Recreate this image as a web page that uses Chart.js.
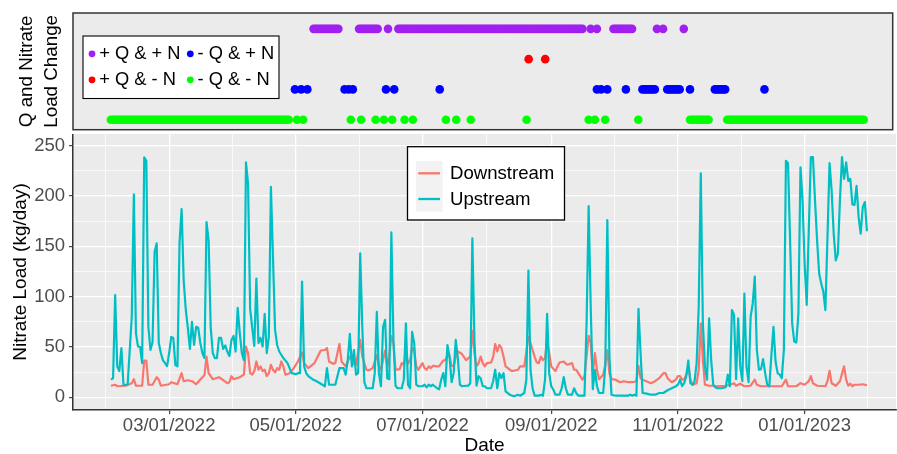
<!DOCTYPE html>
<html><head><meta charset="utf-8">
<script src="https://cdn.jsdelivr.net/npm/chart.js@4.4.1/dist/chart.umd.min.js"></script>
<style>
html,body{margin:0;padding:0;background:#fff;}
#wrap{position:relative;width:897px;height:454px;overflow:hidden;background:#fff;}
#topc{position:absolute;left:0;top:0;}
#botc{position:absolute;left:0;top:134px;}
</style></head><body>
<div id="wrap"><canvas id="topc" width="897" height="134"></canvas><canvas id="botc" width="897" height="320"></canvas></div>
<script>
// ---------- DATA ----------
const startDate = '2022-02-01';               // day 0
const tickDates = ['2022-03-01','2022-05-01','2022-07-01','2022-09-01','2022-11-01','2023-01-01'];
const tickLabels = ['03/01/2022','05/01/2022','07/01/2022','09/01/2022','11/01/2022','01/01/2023'];
const yTickValues = [0,50,100,150,200,250];
const seriesNames = ['Downstream','Upstream'];
const seriesColors = ['#F8766D','#00BFC4'];

// [day since startDate, nitrate load kg/day]
const upstreamLoad = [[0,17.5],[1,19],[2,101.5],[3,30.7],[4,26],[5,49],[6,12.5],[8,12.5],[10,80],[11,201.6],[12,64],[13,50.5],[14,50],[15,34],[16,238.5],[17,235],[18,70],[19,47],[20,55],[21,144.5],[22,153],[23,54],[24,44],[25,37],[27,31],[28,44],[29,60],[30,59],[31,32],[32,30.7],[33,154],[34,187],[35,116],[36,87],[37,69],[38,48],[39,75],[40,52],[41,70],[42,69],[43,54],[44,44],[45,39],[46,174],[47,156],[48,70],[49,44],[50,39],[51,39],[52,59],[53,59],[54,48],[55,51.5],[56,45.5],[57,41],[58,57],[59,61],[60,45.5],[61,89],[62,64],[63,44],[64,37],[65,233.5],[66,212],[67,88],[68,69],[69,51],[70,118],[71,54],[72,59],[73,50.5],[74,83],[75,44],[76,60],[77,209],[78,139],[79,67],[80,52],[81,45.5],[83,39],[85,34],[87,24],[89,23],[90,24],[91,24],[92,115],[93,30.7],[94,24],[95,21],[97,18],[99,16],[103,11],[104,29],[105,12.5],[107,12.5],[108,12.5],[110,29],[112,29],[113,22.5],[114,37],[115,63],[116,30.7],[117,47],[118,22.5],[119,24],[120,143],[121,70],[122,15],[123,9],[124,9],[126,9],[127,24],[128,85],[129,24],[130,11],[131,70],[132,77],[133,19],[134,18],[135,164],[136,57],[137,11.5],[138,9],[140,9],[141,17.5],[142,73.5],[143,12.5],[144,9],[145,65],[146,54],[147,12.5],[148,11],[150,11],[151,12.5],[152,10],[153,12.5],[154,11],[155,12.5],[157,9],[158,8],[159,17.5],[160,24],[161,11],[162,52],[163,40.5],[164,15],[165,24],[166,57],[167,39],[168,12.5],[169,11],[171,11.5],[172,11.5],[173,14],[174,158],[175,57],[176,11.5],[177,21],[178,19],[179,11],[180,11],[181,9],[183,9],[184,16],[185,27.4],[186,9],[187,24],[188,19],[189,24],[190,6],[192,2.6],[194,1],[196,2.6],[197,1.6],[199,4.3],[200,17.5],[201,126],[202,27.4],[203,9],[204,1.6],[206,1.6],[207,2.6],[208,1.6],[209,17.5],[210,83],[211,24],[212,11],[213,7.6],[214,2.6],[216,2.6],[217,9],[218,20],[219,9],[220,2.6],[222,2.6],[223,9],[224,4.3],[225,1.6],[228,1.6],[229,73.5],[230,190],[231,90],[232,8],[233,27.4],[234,11],[235,4.3],[237,4.3],[238,30.7],[239,176],[240,40.5],[241,2.6],[243,1.6],[246,1.6],[249,1.6],[250,2.6],[251,1.6],[252,2.6],[253,1.6],[254,88],[255,44],[256,4.3],[258,3.6],[260,2.6],[262,2.6],[264,4.3],[266,4.3],[268,7],[270,9],[272,11],[273,12.5],[274,17.5],[275,11],[276,14],[277,21],[278,36.6],[279,14],[280,12.5],[281,16],[282,34],[283,90],[284,222.6],[285,73.5],[286,30.7],[287,17.5],[288,78.5],[289,37],[290,12.5],[291,10],[292,9],[294,9],[296,10],[297,22.5],[298,11],[299,86.7],[300,82],[301,18],[302,78.5],[303,30.7],[304,16],[305,103],[306,30.7],[307,15],[308,80],[309,93],[310,120],[311,47],[312,27.4],[313,28],[314,38],[315,24],[316,12.5],[317,11],[318,42],[319,70],[320,35.6],[321,24],[322,22.5],[323,19],[324,47],[325,235],[326,232.6],[327,156],[328,73.5],[329,55.4],[330,54.4],[331,83],[332,228.5],[333,195.7],[334,133],[335,91.7],[336,166],[337,238.6],[338,238.6],[339,195.7],[340,156],[341,123],[342,113],[343,105],[344,86.7],[345,159],[346,232.6],[347,205.6],[348,162.6],[349,136],[350,142.6],[351,195.7],[352,238.6],[353,217],[354,233.5],[355,215],[356,217],[357,191.6],[358,191],[359,210],[360,179],[361,162.6],[362,189],[363,194],[364,165]];

const downstreamLoad = [[0,11.5],[2,12.5],[3,11],[7,11.5],[10,14],[11,18],[12,11.5],[15,11.5],[16,36.6],[17,36.6],[18,12.5],[20,12.5],[22,20],[23,17.5],[24,11.5],[28,13],[29,15],[32,13],[34,24],[35,16],[37,17],[39,16],[41,13],[44,20],[45,22],[46,40.5],[47,24],[49,18],[52,20],[54,17],[56,14],[57,15],[58,21],[59,18],[62,20],[64,22.5],[65,50.5],[66,44],[67,24],[68,22.5],[69,26],[70,35.6],[71,27.4],[72,30.7],[73,26],[74,27.4],[75,21],[76,24],[77,32.3],[78,27.4],[79,24.7],[80,29],[81,27.4],[82,35.6],[83,30.7],[84,22.5],[86,24],[88,29],[90,35.6],[92,44.5],[93,34],[95,29],[98,34],[101,46.5],[103,47],[104,49],[105,35.6],[107,33.3],[108,34],[110,53],[111,35.6],[113,30.7],[115,40.5],[117,33],[118,32.3],[120,57],[121,40.5],[123,27.4],[124,26.7],[126,29],[128,42],[129,31.3],[130,27.4],[131,37],[132,46.5],[133,30.7],[134,40.5],[135,61],[136,54],[137,27.4],[139,28],[140,34],[141,32.3],[142,45.5],[143,33.3],[144,37],[145,49],[146,46.5],[147,30.7],[148,27.4],[149,30.7],[150,34],[151,29],[152,27.4],[153,30.7],[154,29],[155,31.3],[157,30.7],[158,30.7],[160,36.6],[161,37],[162,42],[163,41],[164,31.3],[165,30.7],[166,40.5],[167,45.5],[169,43],[171,37],[173,40.5],[174,66],[175,44],[176,30.7],[177,34],[178,40.5],[179,34],[180,30.7],[181,34],[183,34.6],[184,40],[185,53],[186,45.5],[187,52],[188,49],[189,40.5],[190,30.7],[193,26],[196,27.4],[197,30.7],[199,30.7],[201,60],[202,54],[203,47],[204,40.5],[205,34.6],[206,34],[207,40.5],[208,37],[209,39],[210,56.4],[211,44],[212,30.7],[214,26],[215,30.7],[216,34.6],[218,35.6],[219,33.3],[220,32.3],[222,34],[223,27.4],[224,27.4],[225,24],[227,17.5],[228,21],[230,61],[231,54],[232,24],[233,44],[234,27.4],[235,18],[237,22.5],[238,32.3],[239,47],[240,24],[241,18],[243,17.5],[245,15],[247,16],[249,15],[251,15],[253,16],[254,31.3],[255,19],[256,17.5],[260,14],[262,16],[264,19],[266,24],[267,24],[268,19],[270,15],[272,17.5],[273,21],[274,21],[275,17.5],[276,18],[277,22.5],[278,30.7],[279,17.5],[280,12.5],[282,14],[283,27.4],[284,73.5],[285,37],[286,12.5],[288,11.5],[290,11.5],[292,11],[296,11.5],[298,12.5],[300,14],[301,11.5],[303,13.5],[305,11],[308,11.5],[310,17.5],[311,12.5],[313,11],[323,11],[325,17.5],[326,11],[330,11],[332,14],[334,12.5],[336,16],[337,21],[338,14],[340,11.5],[344,11],[345,16],[346,26.4],[347,14],[349,11.5],[351,16],[353,30.7],[354,17.5],[355,11.5],[356,13.5],[357,11],[358,12.5],[360,12.5],[362,13],[364,12]];

// Q and nitrate load change classes (legend order) and the days in each class
const changeClasses = ['+ Q & + N','+ Q & - N','- Q & + N','- Q & - N'];
const classColors = ['#A020F0','#FF0000','#0000FF','#00FF00'];
const classRows = [4,3,2,1];
const posQposN = [98,99,100,101,102,103,104,105,106,107,108,109,110,120,121,122,123,124,125,126,127,128,129,134,139,140,141,142,143,144,145,146,147,148,149,150,151,152,153,154,155,156,157,158,159,160,161,162,163,164,165,166,167,168,169,170,171,172,173,174,175,176,177,178,179,180,181,182,183,184,185,186,187,188,189,190,191,192,193,194,195,196,197,198,199,200,201,202,203,204,205,206,207,208,209,210,211,212,213,214,215,216,217,218,219,220,221,222,223,224,225,226,227,228,232,235,243,244,245,246,247,248,249,250,251,252,264,267,277];
const posQnegN = [202,210];
const negQposN = [89,92,95,113,115,117,133,137,159,235,237,240,249,257,258,259,260,261,262,263,269,270,271,272,273,274,275,280,292,293,294,295,296,297,316];
const negQnegN = [0,1,2,3,4,5,6,7,8,9,10,11,12,13,14,15,16,17,18,19,20,21,22,23,24,25,26,27,28,29,30,31,32,33,34,35,36,37,38,39,40,41,42,43,44,45,46,47,48,49,50,51,52,53,54,55,56,57,58,59,60,61,62,63,64,65,66,67,68,69,70,71,72,73,74,75,76,77,78,79,80,81,82,83,84,85,86,90,93,116,121,128,132,136,142,146,162,167,174,201,231,234,239,255,280,281,282,283,284,285,286,287,288,289,298,299,300,301,302,303,304,305,306,307,308,309,310,311,312,313,314,315,316,317,318,319,320,321,322,323,324,325,326,327,328,329,330,331,332,333,334,335,336,337,338,339,340,341,342,343,344,345,346,347,348,349,350,351,352,353,354,355,356,357,358,359,360,361,362,363,364];
const classDays = [posQposN, posQnegN, negQposN, negQnegN];

// ---------- SETUP ----------
const FONT = "'Liberation Sans', Arial, Helvetica, sans-serif";
Chart.defaults.font.family = FONT;
const DAY = 86400000;
const dayIndex = s => Math.round((Date.parse(s) - Date.parse(startDate)) / DAY);
const xMajor = tickDates.map(dayIndex);
const xMinor = [xMajor[0] - (xMajor[1]-xMajor[0])/2];
for (let i = 0; i < xMajor.length-1; i++) xMinor.push((xMajor[i]+xMajor[i+1])/2);
xMinor.push(xMajor[xMajor.length-1] + (xMajor[xMajor.length-1]-xMajor[xMajor.length-2])/2);
const xTicks = xMajor.concat(xMinor).sort((a,b)=>a-b);
const yMinor = [];
for (let i = 0; i < yTickValues.length-1; i++) yMinor.push((yTickValues[i]+yTickValues[i+1])/2);
const yTicks = yTickValues.concat(yMinor).sort((a,b)=>a-b);
const X_MIN = -18.3, X_MAX = 378;

const panelBg = {
  id: 'panelBg',
  beforeDraw(chart) {
    const a = chart.chartArea, c = chart.ctx;
    c.save(); c.fillStyle = '#EBEBEB'; c.fillRect(a.left, a.top, a.right-a.left, a.bottom-a.top); c.restore();
  }
};

// ---------- TOP PANEL ----------
const topDecor = {
  id: 'topDecor',
  afterDraw(chart) {
    const a = chart.chartArea, c = chart.ctx, ds = chart.data.datasets;
    c.save();
    c.strokeStyle = '#333'; c.lineWidth = 1.5;
    c.strokeRect(a.left, a.top, a.right-a.left, a.bottom-a.top);
    // legend
    const bx = a.left + 10, by = a.top + 23, bw = 196, bh = 62.5;
    c.fillStyle = '#fff'; c.fillRect(bx, by, bw, bh);
    c.strokeStyle = '#000'; c.lineWidth = 1.1; c.strokeRect(bx, by, bw, bh);
    const colX = [bx + 9, bx + 107.3], rowY = [by + 17.8, by + 43.8];
    c.font = '18.3px ' + FONT; c.textBaseline = 'middle'; c.textAlign = 'left';
    ds.forEach((d, i) => {
      const col = Math.floor(i/2), row = i % 2;
      c.fillStyle = d.backgroundColor;
      c.beginPath(); c.arc(colX[col], rowY[row], 3.4, 0, Math.PI*2); c.fill();
      c.fillStyle = '#000';
      c.fillText(d.label, colX[col] + 7.2, rowY[row] + 0.5);
    });
    c.restore();
  }
};

new Chart(document.getElementById('topc'), {
  type: 'scatter',
  data: {
    datasets: changeClasses.map((name, k) => ({
      label: name,
      data: classDays[k].map(d => ({x: d, y: classRows[k]})),
      backgroundColor: classColors[k],
      borderWidth: 0,
      pointRadius: 4.3,
      pointHoverRadius: 4.3
    }))
  },
  options: {
    responsive: false, animation: false, events: [], devicePixelRatio: 1,
    layout: {padding: {top: 13, bottom: 1, left: 0, right: 1}},
    plugins: {legend: {display: false}, tooltip: {enabled: false}},
    scales: {
      x: {type: 'linear', min: X_MIN, max: X_MAX, display: false},
      y: {
        type: 'linear', min: 0.669, max: 4.524,
        afterFit: s => { s.width = 73; s.paddingTop = 0; s.paddingBottom = 0; },
        ticks: {display: false},
        grid: {display: false},
        border: {display: false},
        title: {display: true, text: ['Q and Nitrate','Load Change'], color: '#000',
                font: {size: 18.8, lineHeight: 1.33}, padding: {top: 14.5, bottom: 0}}
      }
    }
  },
  plugins: [panelBg, topDecor]
});

// ---------- BOTTOM PANEL ----------
const botLegend = {
  id: 'botLegend',
  afterDraw(chart) {
    const c = chart.ctx, ds = chart.data.datasets;
    c.save();
    const bx = 407.5, by = 12.7, bw = 157, bh = 73.3;
    c.fillStyle = '#fff'; c.fillRect(bx, by, bw, bh);
    c.strokeStyle = '#000'; c.lineWidth = 1.3; c.strokeRect(bx, by, bw, bh);
    c.fillStyle = '#F2F2F2'; c.fillRect(bx + 8.5, by + 14.3, 26.5, 50.7);
    const rowY = [by + 26.6, by + 52.3];
    c.font = '18.6px ' + FONT; c.textBaseline = 'middle'; c.textAlign = 'left';
    seriesNames.forEach((name, i) => {
      c.strokeStyle = seriesColors[i]; c.lineWidth = 2.3;
      c.beginPath(); c.moveTo(bx + 10.8, rowY[i]); c.lineTo(bx + 32.5, rowY[i]); c.stroke();
      c.fillStyle = '#000'; c.fillText(name, bx + 42.5, rowY[i] + 0.5);
    });
    c.restore();
  }
};

const gridColor = '#FFFFFF';
new Chart(document.getElementById('botc'), {
  type: 'line',
  data: {
    datasets: [
      {label: seriesNames[0], data: downstreamLoad.map(p => ({x: p[0], y: p[1]})), borderColor: seriesColors[0], order: 1},
      {label: seriesNames[1], data: upstreamLoad.map(p => ({x: p[0], y: p[1]})), borderColor: seriesColors[1], order: 0}
    ].map(d => Object.assign(d, {borderWidth: 2.2, pointRadius: 0, tension: 0, fill: false,
                                  borderJoinStyle: 'round', borderCapStyle: 'butt'}))
  },
  options: {
    responsive: false, animation: false, events: [], devicePixelRatio: 1,
    layout: {padding: {top: 0, bottom: 0, left: 0, right: 1}},
    plugins: {legend: {display: false}, tooltip: {enabled: false}},
    scales: {
      x: {
        type: 'linear', min: X_MIN, max: X_MAX, bounds: 'data',
        afterBuildTicks: s => { s.ticks = xTicks.map(v => ({value: v})); },
        afterFit: s => { s.height = 44; s.paddingLeft = 0; s.paddingRight = 0; },
        ticks: {autoSkip: false, maxRotation: 0, minRotation: 0, padding: 1, color: '#4D4D4D',
                font: {size: 18.5},
                callback: v => { const i = xMajor.indexOf(v); return i >= 0 ? tickLabels[i] : ''; }},
        grid: {color: gridColor,
               lineWidth: c => xMajor.includes(c.tick.value) ? 1.3 : 0.7,
               tickColor: c => xMajor.includes(c.tick.value) ? '#333' : 'rgba(0,0,0,0)',
               tickLength: 4, tickWidth: 1.1},
        border: {display: true, color: '#333', width: 1.5},
        title: {display: true, text: 'Date', color: '#000', font: {size: 19, lineHeight: 0.9},
                padding: {top: 0, bottom: 0}}
      },
      y: {
        type: 'linear', min: -12.6, max: 261.6, bounds: 'data',
        afterBuildTicks: s => { s.ticks = yTicks.map(v => ({value: v})); },
        afterFit: s => { s.width = 73; s.paddingTop = 0; s.paddingBottom = 0; },
        ticks: {padding: 4, color: '#4D4D4D', font: {size: 18.5},
                callback: v => yTickValues.includes(v) ? String(v) : ''},
        grid: {color: gridColor,
               lineWidth: c => yTickValues.includes(c.tick.value) ? 1.3 : 0.7,
               tickColor: c => yTickValues.includes(c.tick.value) ? '#333' : 'rgba(0,0,0,0)',
               tickLength: 4, tickWidth: 1.1},
        border: {display: true, color: '#333', width: 1.5},
        title: {display: true, text: 'Nitrate Load (kg/day)', color: '#000', font: {size: 19, lineHeight: 1.2},
                padding: {top: 9, bottom: 0}}
      }
    }
  },
  plugins: [panelBg, botLegend]
});
</script>
</body></html>
